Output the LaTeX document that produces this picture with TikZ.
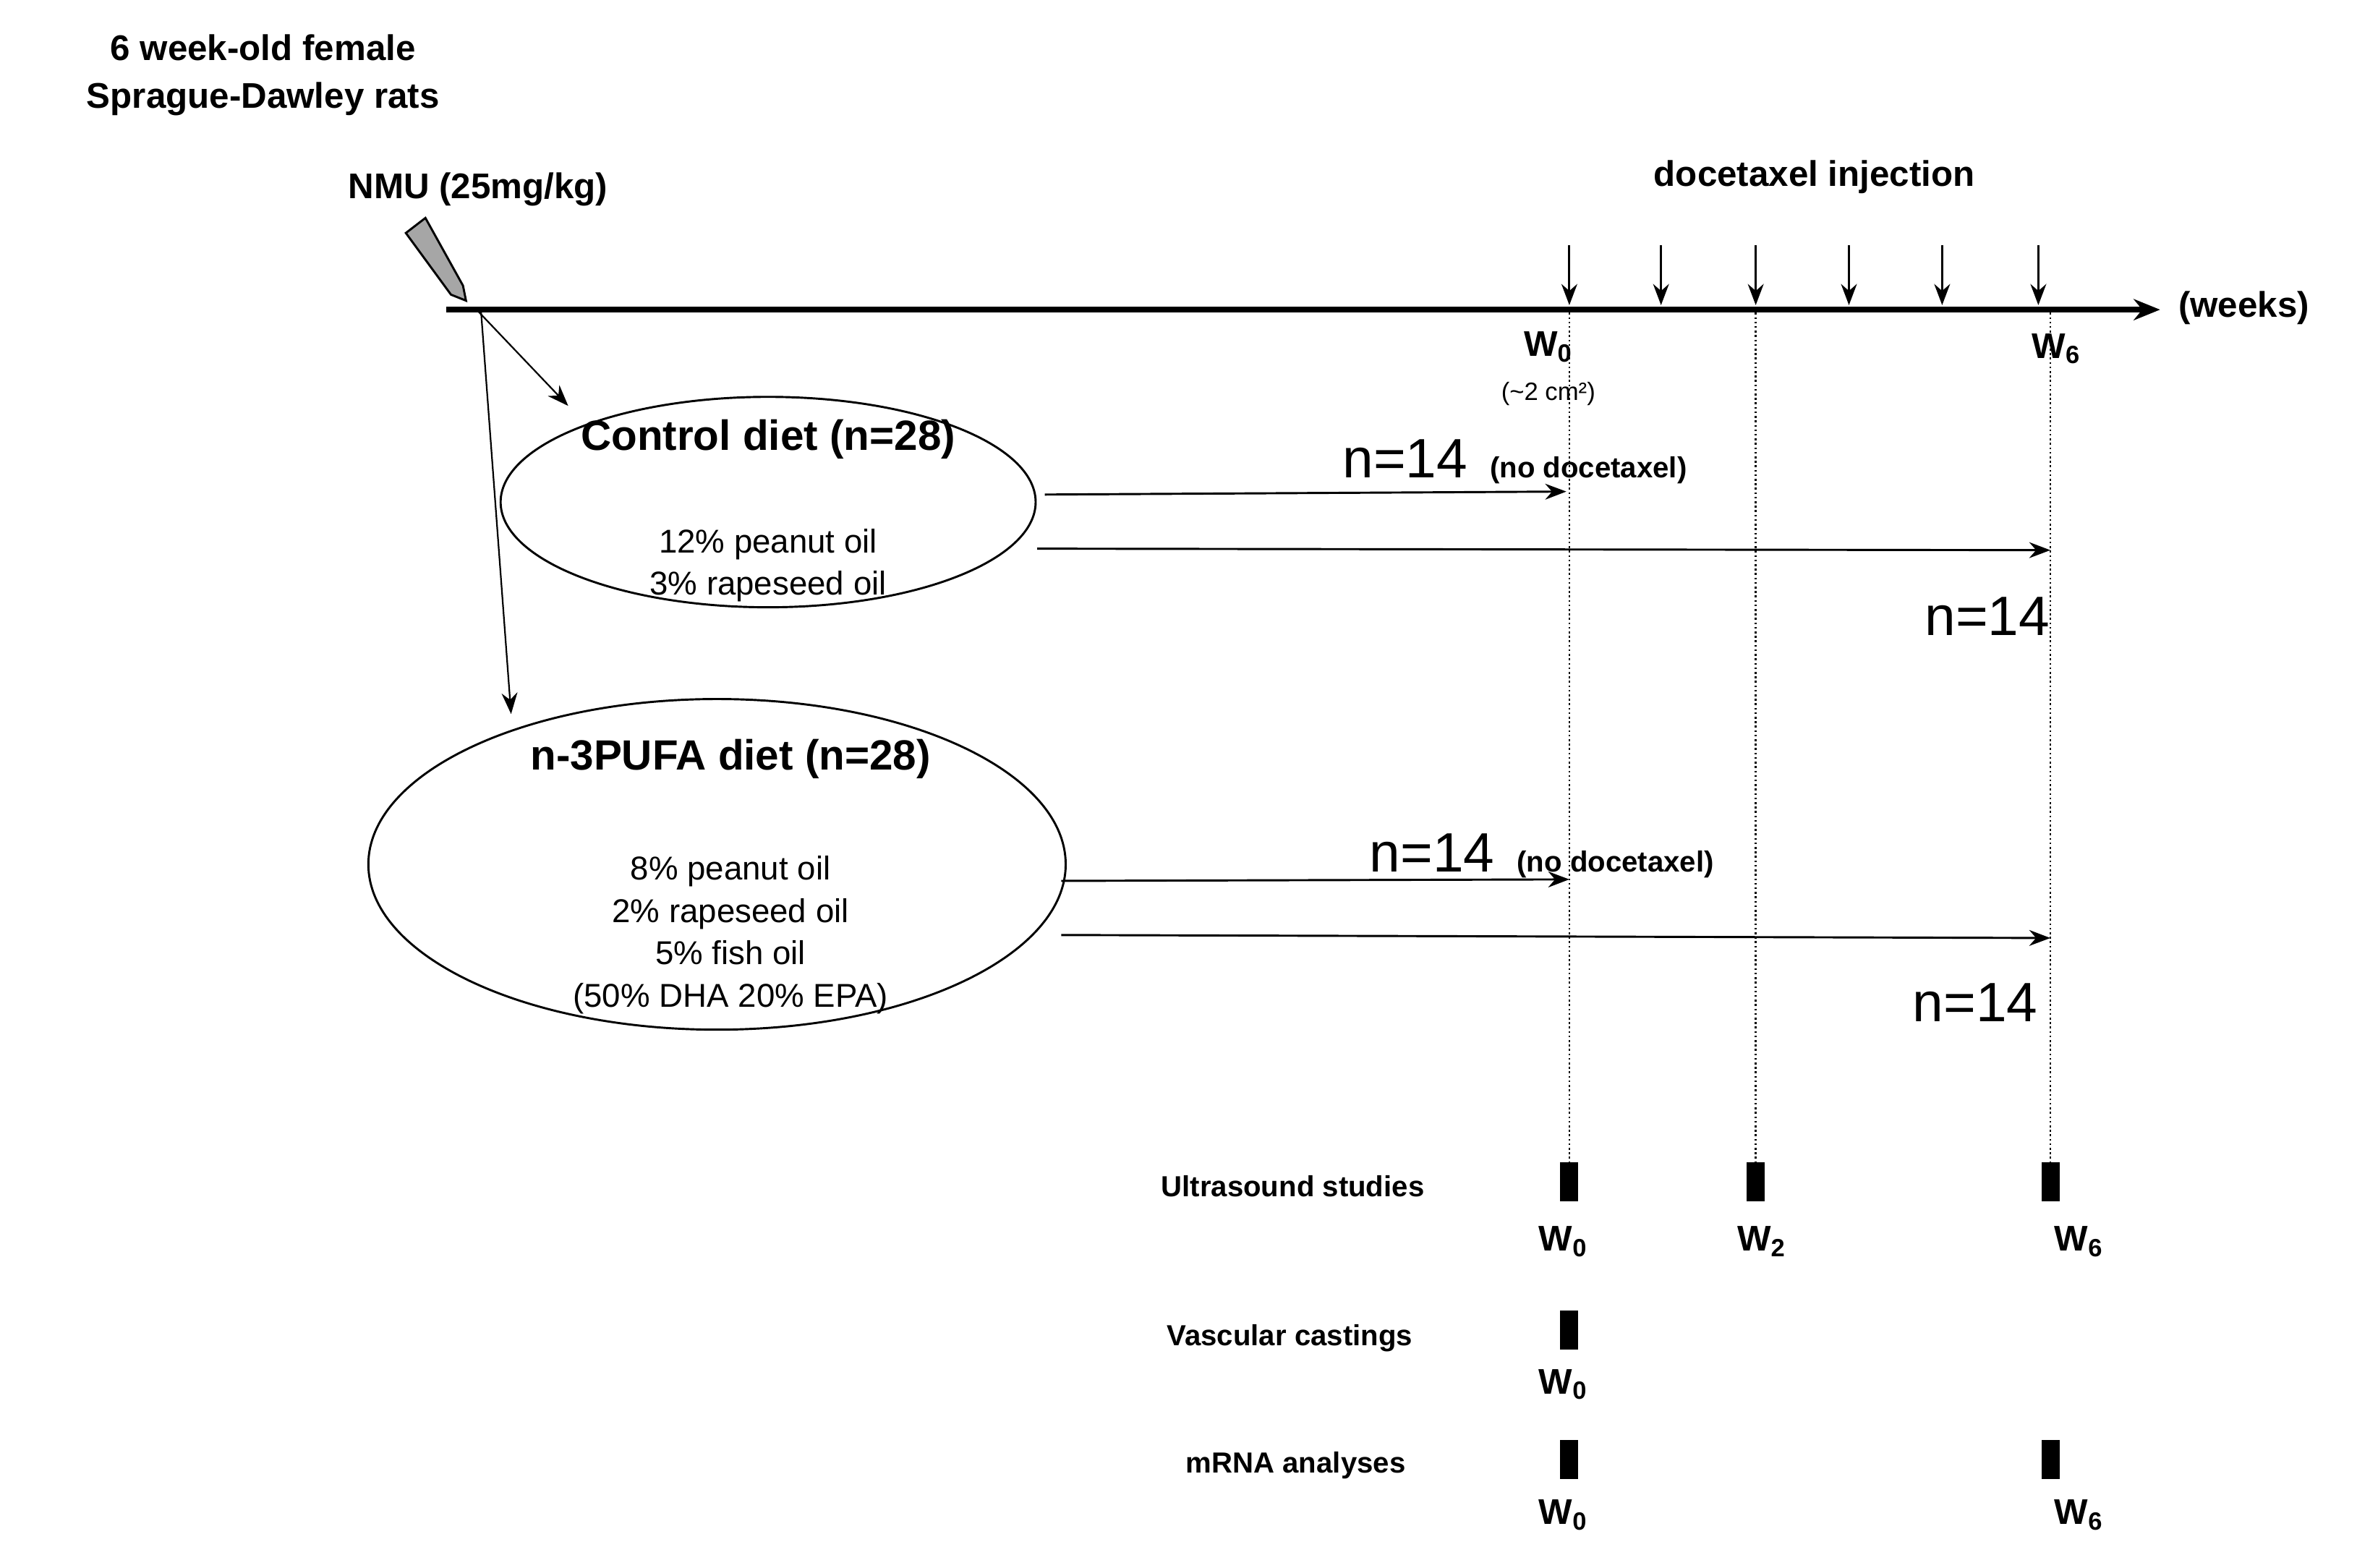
\documentclass[tikz,border=0pt]{standalone}
\usepackage{fontspec}
\setmainfont{Liberation Sans}
\usetikzlibrary{arrows.meta,shapes.geometric}
\begin{document}
\begin{tikzpicture}[x=0.02cm,y=-0.02cm,
 bt/.style={font=\fontsize{13.5}{16}\selectfont\bfseries},
 sb/.style={font=\fontsize{11}{13}\selectfont\bfseries},
 nt/.style={font=\fontsize{12.5}{15}\selectfont,align=center},
 big/.style={font=\fontsize{21}{24}\selectfont},
 arr/.style={-{Stealth[length=8pt,width=6pt]},line width=0.8pt},
 dot/.style={densely dotted,line width=0.7pt},
 bar/.style={fill=black,minimum width=0.24cm,minimum height=0.52cm,inner sep=0}]
\useasboundingbox (0,0) rectangle (1568,1043);
\node[bt,align=center] (title) at (175,50) {6 week-old female\\[2pt]Sprague-Dawley rats};
\node[bt] (nmu) at (318,126) {NMU (25mg/kg)};
\node[bt] (doc) at (1207,118) {docetaxel injection};
% syringe
\draw[fill=gray!70,line width=0.8pt] (270,155) -- (283,145) -- (308,190) -- (310,200) -- (300,196) -- cycle;
\coordinate (t0) at (297,206); \coordinate (t1) at (1437,206);
\draw[-{Stealth[length=10pt,width=8pt]},line width=2.2pt] (t0) -- (t1);
\node[bt,anchor=west] (weeks) at (1443,205) {(weeks)};
\foreach \x/\n in {1044/a,1105/b,1168/c,1230/d,1292/e,1356/f}{
 \coordinate (d\n) at (\x,163); \coordinate (e\n) at (\x,203);
 \draw[arr] (d\n) -- (e\n);}
\node[bt] (w0) at (1030,231) {W\textsubscript{0}};
\node[font=\fontsize{9.5}{11}\selectfont] (cm) at (1030,262) {(\textasciitilde2 cm²)};
\node[bt] (w6) at (1368,232) {W\textsubscript{6}};
\foreach \x/\n in {1044/a,1168/b,1364/c}{
 \coordinate (v\n) at (\x,208); \coordinate (u\n) at (\x,775);
 \draw[dot] (v\n) -- (u\n);}
\node[draw,ellipse,minimum width=7.12cm,minimum height=2.8cm,line width=0.8pt] (e1) at (511,334) {};
\node[draw,ellipse,minimum width=9.28cm,minimum height=4.4cm,line width=0.8pt] (e2) at (477,575) {};
\coordinate (s1) at (318,207); \coordinate (s2) at (320,207);
\coordinate (g1) at (378,270); \coordinate (g2) at (340,475);
\draw[arr,line width=0.6pt] (s1) -- (g1);
\draw[arr,line width=0.6pt] (s2) -- (g2);
\node[font=\fontsize{16}{19}\selectfont\bfseries] (c1) at (511,292) {Control diet (n=28)};
\node[nt] (c2) at (511,376) {12\% peanut oil\\[1pt]3\% rapeseed oil};
\node[font=\fontsize{16}{19}\selectfont\bfseries] (p1) at (486,505) {n-3PUFA diet (n=28)};
\node[nt] (p2) at (486,622) {8\% peanut oil\\[1pt]2\% rapeseed oil\\[1pt]5\% fish oil\\[1pt](50\% DHA 20\% EPA)};
\coordinate (a1) at (695,329); \coordinate (b1) at (1042,327);
\coordinate (a2) at (690,365); \coordinate (b2) at (1364,366);
\coordinate (a3) at (706,586); \coordinate (b3) at (1044,585);
\coordinate (a4) at (706,622); \coordinate (b4) at (1364,624);
\foreach \i in {1,2,3,4}{\draw[arr] (a\i) -- (b\i);}
\node[big,anchor=base west] (n1) at (887,318) {n=14};
\node[sb,anchor=base west] (nd1) at (985,318) {(no docetaxel)};
\node[big] (n2) at (1322,410) {n=14};
\node[big,anchor=base west] (n3) at (905,580) {n=14};
\node[sb,anchor=base west] (nd3) at (1003,580) {(no docetaxel)};
\node[big] (n4) at (1314,667) {n=14};
\node[sb] (us) at (860,789) {Ultrasound studies};
\node[sb] (vc) at (858,890) {Vascular castings};
\node[sb] (mr) at (862,975) {mRNA analyses};
\node[bar] (b11) at (1044,786) {}; \node[bar] (b12) at (1168,786) {}; \node[bar] (b13) at (1364,786) {};
\node[bar] (b21) at (1044,885) {};
\node[bar] (b31) at (1044,971) {}; \node[bar] (b33) at (1364,971) {};
\node[bt] (l1) at (1040,826) {W\textsubscript{0}};
\node[bt] (l2) at (1172,826) {W\textsubscript{2}};
\node[bt] (l3) at (1383,826) {W\textsubscript{6}};
\node[bt] (l4) at (1040,921) {W\textsubscript{0}};
\node[bt] (l5) at (1040,1008) {W\textsubscript{0}};
\node[bt] (l6) at (1383,1008) {W\textsubscript{6}};
\end{tikzpicture}
\end{document}
